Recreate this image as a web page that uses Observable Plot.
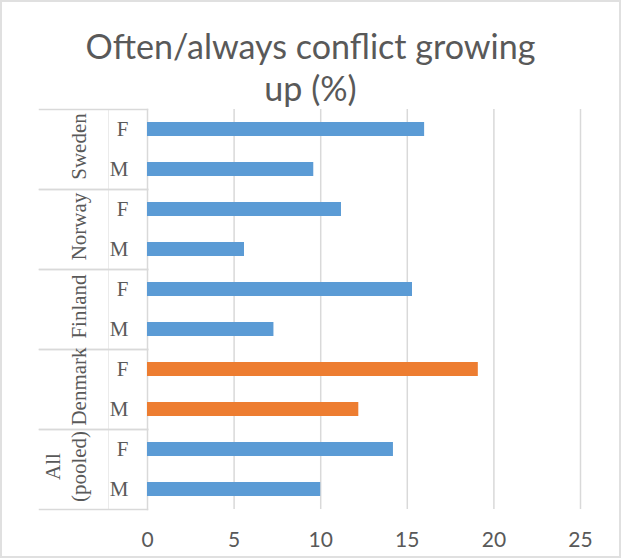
<!DOCTYPE html>
<html><head><meta charset="utf-8">
<script src="https://cdn.jsdelivr.net/npm/d3@7"></script>
<script src="https://cdn.jsdelivr.net/npm/@observablehq/plot@0.6"></script>
<style>
html,body{margin:0;padding:0;background:#fff;}
#wrap{position:relative;width:621px;height:559px;overflow:hidden;background:#fff;}
#title{position:relative;height:106px;font-family:Lato, sans-serif;color:#595959;}
.tl{position:absolute;left:0;width:621px;text-align:center;line-height:1;white-space:nowrap;}
#border{position:absolute;left:0;top:0;width:621px;height:558px;box-sizing:border-box;border:2px solid #e0e0e0;pointer-events:none;}
</style></head><body>
<div id="wrap"><div id="title"></div><div id="chart"></div><div id="border"></div></div>
<script>
const titleLines = ["Often/always conflict growing", "up (%)"];
const countries = ["Sweden", "Norway", "Finland", "Denmark", "All (pooled)"];
const countryLabels = ["Sweden", "Norway", "Finland", "Denmark", "All\n(pooled)"];
const sexes = ["F", "M"];
const female = [16.0, 11.2, 15.3, 19.1, 14.2];
const male = [9.6, 5.6, 7.3, 12.2, 10.0];
const countryColors = ["#5B9BD5", "#5B9BD5", "#5B9BD5", "#ED7D31", "#5B9BD5"];
const xTicks = [0, 5, 10, 15, 20, 25];

const values = {F: female, M: male};
const rows = countries.flatMap((c, i) => sexes.map(s => ({country: c, sex: s, value: values[s][i]})));

// title
const titleEl = document.getElementById("title");
const ctx = document.createElement("canvas").getContext("2d");
ctx.font = "34px Lato";
const w = ctx.measureText(titleLines[0]).width;
const fs = Math.min(35, 34 * 450 / w);
const baselines = [59, 101];
titleLines.forEach((t, i) => {
  const d = document.createElement("div");
  d.className = "tl";
  d.style.fontSize = fs + "px";
  d.style.top = (baselines[i] - 0.887 * fs) + "px";
  d.textContent = t;
  titleEl.appendChild(d);
});

const W = 621, H = 453, mL = 147, mR = 41, mT = 1, mB = 48;
const plotW = W - mL - mR;
const lineColor = "#d9d9d9";
const serif = "'Liberation Serif', 'Times New Roman', serif";

const chart = Plot.plot({
  width: W, height: H,
  marginTop: mT, marginBottom: mB, marginLeft: mL, marginRight: mR,
  style: {fontFamily: "Lato, sans-serif", fontSize: "21px", color: "#595959", background: "transparent", overflow: "visible"},
  x: {domain: [0, 25], ticks: xTicks, tickSize: 0, tickPadding: 23, label: null},
  y: {domain: sexes, paddingInner: 0.65, paddingOuter: 0.325, axis: null},
  fy: {domain: countries, padding: 0, axis: null},
  color: {domain: countries, range: countryColors},
  marks: [
    Plot.gridX(xTicks.filter(t => t > 0), {stroke: lineColor, strokeOpacity: 1, strokeWidth: 1.5}),
    Plot.frame({anchor: "left", stroke: lineColor, strokeWidth: 1.5}),
    Plot.frame({anchor: "left", insetLeft: -(mL - 108), stroke: "#ebebeb", strokeWidth: 1}),
    Plot.frame({anchor: "top", insetLeft: -(mL - 39), insetRight: plotW, stroke: lineColor, strokeWidth: 1.5}),
    Plot.frame({anchor: "bottom", insetLeft: -(mL - 39), insetRight: plotW, stroke: lineColor, strokeWidth: 1.5}),
    Plot.barX(rows, {x: "value", y: "sex", fy: "country", fill: "country"}),
    Plot.text(rows, {fy: "country", y: "sex", text: "sex", frameAnchor: "left", dx: -19, textAnchor: "end",
      fontFamily: serif, fontSize: 21, fill: "#595959"}),
    Plot.text(countries, {fy: d => d, text: (d, i) => countryLabels[i], frameAnchor: "left", dx: -62, dy: -3,
      rotate: -90, lineAnchor: "bottom", lineHeight: 1.2, textAnchor: "middle",
      fontFamily: serif, fontSize: 21, fill: "#595959"})
  ]
});
document.getElementById("chart").appendChild(chart);
</script>
</body></html>
